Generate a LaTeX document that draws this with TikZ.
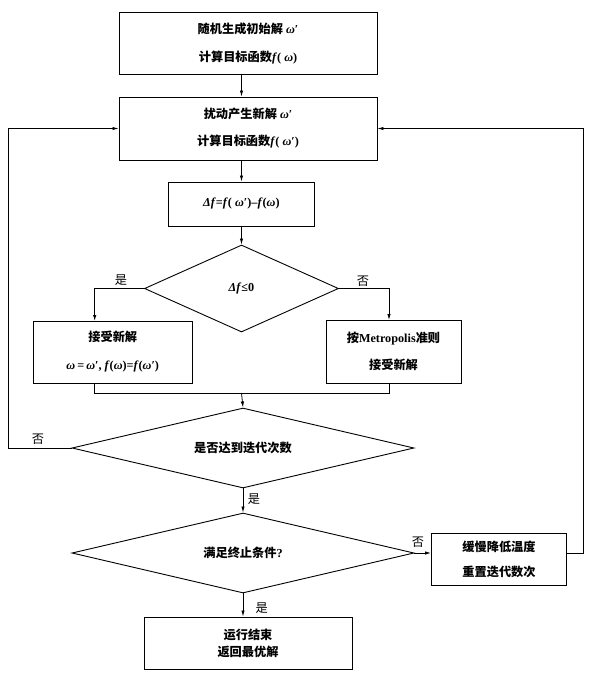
\documentclass[tikz,border=0pt]{standalone}
\usepackage{fontspec}
\setmainfont{Liberation Serif}
\newfontfamily\cjk{Noto Sans CJK SC}
\usetikzlibrary{shapes.geometric,arrows.meta}
\newcommand\zh[1]{{\cjk #1}}
\newcommand\wo{\textbf{\textit{ω}}}
\newcommand\ff{\textbf{\textit{f}}}
\begin{document}
\begin{tikzpicture}[x=1pt,y=-1pt,
  every node/.style={font=\fontsize{12.2}{15}\selectfont\bfseries},
  box/.style={draw,line width=0.9pt,rectangle,inner sep=0pt,align=center},
  dia/.style={draw,line width=0.9pt,diamond,inner sep=0pt,align=center},
  line/.style={line width=0.8pt},
  arr/.style={line width=0.8pt,-{Latex[length=6pt,width=3.4pt]}},
  lab/.style={font=\fontsize{12.2}{15}\selectfont}]
\useasboundingbox (0,0) rectangle (596,680);
\node[box,minimum width=258,minimum height=62] (b1) at (248,43)
  {\zh{随机生成初始解} \wo′\\[13pt]\zh{计算目标函数}\ff( \wo)};
\node[box,minimum width=258,minimum height=63] (b2) at (248,128.5)
  {\zh{扰动产生新解} \wo′\\[12pt]\zh{计算目标函数}\ff( \wo′)};
\node[box,minimum width=146,minimum height=44] (b3) at (241.4,204)
  {\textit{Δf}=\ff( \wo′)–\ff(\wo)};
\node[dia,shape aspect=2.23,minimum width=194,minimum height=87] (d1) at (241.5,288.5)
  {\textit{Δf}≤0};
\node[box,minimum width=158.5,minimum height=62] (b4) at (112.75,352)
  {\zh{接受新解}\\[13pt]\wo\,=\,\wo′, \ff(\wo)=\ff(\wo′)};
\node[box,minimum width=135,minimum height=63] (b5) at (393.5,351.5)
  {\zh{按}Metropolis\zh{准则}\\[12pt]\zh{接受新解}};
\node[dia,shape aspect=4.27,minimum width=342,minimum height=80] (d2) at (243,448)
  {\zh{是否达到迭代次数}};
\node[dia,shape aspect=4.27,minimum width=342,minimum height=80] (d3) at (243,553)
  {\zh{满足终止条件}?};
\node[box,minimum width=135,minimum height=52] (b6) at (499,559)
  {\zh{缓慢降低温度}\\[10pt]\zh{重置迭代数次}};
\node[box,minimum width=208,minimum height=52] (b7) at (248,643)
  {\zh{运行结束}\\[2pt]\zh{返回最优解}};
\coordinate (bL) at (94.7,321);
\coordinate (bR) at (389,320);
\coordinate (mg) at (241.5,393);
\coordinate (lft) at (8.4,0);
\coordinate (rgt) at (583.4,0);
\draw[arr] (b1.south -| d1.north) -- (b2.north -| d1.north);
\draw[arr] (b2.south -| d1.north) -- (b3.north -| d1.north);
\draw[arr] (b3.south -| d1.north) -- (d1.north);
\draw[arr] (d1.west) -| (bL);
\draw[arr] (d1.east) -| (bR);
\draw[line] (bL |- b4.south) -- (bL |- mg) -- (bR |- mg) -- (bR |- b5.south);
\draw[arr] (mg) -- (d2.north);
\draw[arr] (d2.west) -- (lft |- d2.west) -- (lft |- b2.west) -- (b2.west);
\draw[arr] (d2.south) -- (d3.north);
\draw[arr] (d3.east) -- (d3.east -| b6.west);
\draw[arr] (b6.east |- d3.east) -- (rgt |- d3.east) -- (rgt |- b2.east) -- (b2.east);
\draw[arr] (d3.south) -- (d3.south |- b7.north);
\node[lab] (l1) at (121,280) {\zh{是}};
\node[lab] (l2) at (363,281) {\zh{否}};
\node[lab] (l3) at (38,439) {\zh{否}};
\node[lab] (l4) at (254,499) {\zh{是}};
\node[lab] (l5) at (418,542) {\zh{否}};
\node[lab] (l6) at (261.6,607.7) {\zh{是}};
\end{tikzpicture}
\end{document}
